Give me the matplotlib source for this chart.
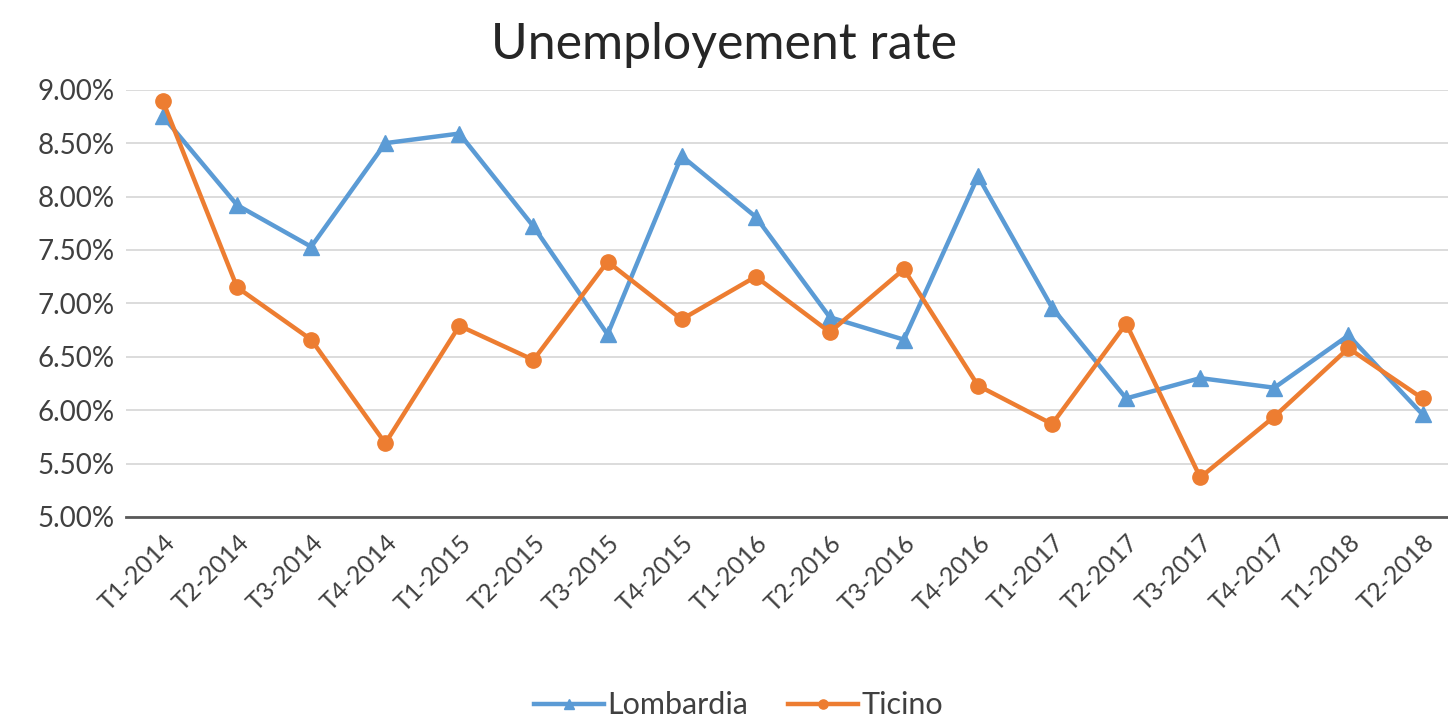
#! /usr/bin/env python3

'''
Unemployment rate, Lombardia vs Ticino, quarterly 2014-2018
'''

import matplotlib.pyplot as plt
from matplotlib.ticker import PercentFormatter


quarters = ['T1-2014', 'T2-2014', 'T3-2014', 'T4-2014',
            'T1-2015', 'T2-2015', 'T3-2015', 'T4-2015',
            'T1-2016', 'T2-2016', 'T3-2016', 'T4-2016',
            'T1-2017', 'T2-2017', 'T3-2017', 'T4-2017',
            'T1-2018', 'T2-2018']

lombardia = [8.75, 7.92, 7.53, 8.50, 8.59, 7.72, 6.71, 8.38, 7.81,
             6.87, 6.66, 8.19, 6.96, 6.11, 6.30, 6.21, 6.70, 5.96]

ticino = [8.89, 7.15, 6.66, 5.69, 6.79, 6.47, 7.39, 6.85, 7.25,
          6.73, 7.32, 6.23, 5.87, 6.81, 5.37, 5.94, 6.58, 6.11]

title = 'Unemployement rate'

blue = '#5B9BD5'
orange = '#ED7D31'


def main():
    plt.rcParams['font.family'] = ['Lato', 'DejaVu Sans']
    fig = plt.figure(figsize=(14.48, 7.18), dpi=100)
    ax = fig.add_axes([0.087, 0.28, 0.921, 0.595])

    x = range(len(quarters))
    ax.plot(x, lombardia, color=blue, lw=3.2, marker='^', ms=11,
            label='Lombardia', zorder=3)
    ax.plot(x, ticino, color=orange, lw=3.2, marker='o', ms=11,
            label='Ticino', zorder=4)

    ax.set_xlim(-0.5, len(quarters) - 0.5)
    ax.set_ylim(5.0, 9.0)
    ax.set_yticks([5.0 + 0.5 * i for i in range(9)])
    ax.yaxis.set_major_formatter(PercentFormatter(decimals=2))
    ax.set_xticks(list(x))
    ax.set_xticklabels(quarters, rotation=45, ha='right',
                       rotation_mode='anchor')

    ax.grid(axis='y', color='#D9D9D9', lw=1.3)
    ax.set_axisbelow(True)
    for side in ['top', 'right', 'left']:
        ax.spines[side].set_visible(False)
    ax.spines['bottom'].set_color('#595959')
    ax.spines['bottom'].set_linewidth(2)
    ax.tick_params(length=0, colors='#404040')
    ax.tick_params(axis='y', pad=8, labelsize=20)
    ax.tick_params(axis='x', pad=10, labelsize=18)

    fig.suptitle(title, fontsize=36, color='#262626', y=0.97)
    fig.legend(loc='lower center', ncol=2, frameon=False,
               fontsize=22, bbox_to_anchor=(0.51, -0.04),
               handlelength=2.3, handletextpad=0.1,
               columnspacing=1.3, labelcolor='#404040',
               markerscale=0.6)

    fig.savefig('out.png', dpi=100)


if __name__ == '__main__':
    main()
